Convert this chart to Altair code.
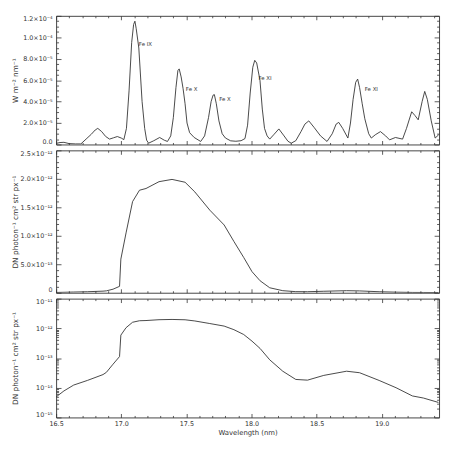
import json
import altair as alt
import pandas as pd

# ---------------- data ----------------
# Panel 1: solar spectrum (W m^-2 nm^-1), values in units of 1e-5
WL1 = [16.50, 16.53, 16.56, 16.60, 16.65, 16.69, 16.73, 16.77, 16.80, 16.82,
       16.85, 16.88, 16.91, 16.94, 16.97, 17.00, 17.02, 17.04, 17.06, 17.08,
       17.095, 17.105, 17.115, 17.135, 17.16, 17.18, 17.195, 17.21, 17.25, 17.295,
       17.33, 17.355, 17.38, 17.40, 17.42, 17.435, 17.445, 17.46, 17.475, 17.49,
       17.505, 17.525, 17.56, 17.61, 17.64, 17.67, 17.69, 17.705, 17.715, 17.73,
       17.75, 17.775, 17.80, 17.84, 17.88, 17.92, 17.95, 17.97, 17.99, 18.01,
       18.025, 18.04, 18.065, 18.083, 18.10, 18.12, 18.14, 18.17, 18.21, 18.25,
       18.28, 18.305, 18.34, 18.38, 18.41, 18.44, 18.48, 18.53, 18.58, 18.62,
       18.65, 18.67, 18.70, 18.74, 18.76, 18.78, 18.80, 18.815, 18.83, 18.85,
       18.87, 18.90, 18.92, 18.95, 18.99, 19.03, 19.06, 19.105, 19.16, 19.19,
       19.23, 19.255, 19.28, 19.31, 19.33, 19.35, 19.38, 19.41, 19.437]
FLUX1_E5 = [0.10, 0.18, 0.20, 0.08, 0.05, 0.05, 0.50, 0.95, 1.35, 1.50,
            1.20, 0.75, 0.50, 0.62, 0.74, 0.60, 0.45, 1.50, 5.00, 9.50,
            11.20, 11.50, 10.80, 9.00, 4.00, 1.50, 0.40, 0.12, 0.35, 0.65,
            0.40, 0.28, 0.80, 2.50, 5.30, 6.90, 7.05, 6.30, 5.20, 3.80,
            2.00, 1.10, 0.65, 0.28, 0.80, 2.50, 4.00, 4.60, 4.65, 3.80,
            2.20, 1.00, 0.60, 0.34, 0.30, 0.35, 0.55, 1.80, 4.80, 7.20,
            7.85, 7.60, 6.00, 3.30, 1.50, 0.80, 0.50, 0.90, 1.45, 0.80,
            0.30, 0.12, 0.35, 1.20, 1.90, 2.20, 1.60, 0.80, 0.28, 1.00,
            1.90, 2.06, 1.50, 0.60, 2.00, 4.20, 5.80, 6.10, 5.30, 3.80,
            2.40, 1.00, 0.60, 0.90, 1.20, 0.80, 0.43, 0.65, 0.50, 1.50,
            3.05, 2.70, 2.30, 4.00, 4.95, 4.20, 2.20, 0.60, 0.90]

# Panels 2 and 3: effective area response, units of 1e-12
WL2 = [16.50, 16.56, 16.635, 16.74, 16.86, 16.886, 16.937, 16.987, 16.997, 17.037,
       17.087, 17.14, 17.19, 17.29, 17.39, 17.49, 17.565, 17.68, 17.79, 17.865,
       17.94, 18.004, 18.066, 18.14, 18.24, 18.34, 18.43, 18.555, 18.73, 18.83,
       18.98, 19.11, 19.235, 19.32, 19.435]
AREA_E12 = [0.0049, 0.0078, 0.0123, 0.0176, 0.0277, 0.033, 0.062, 0.112, 0.59, 1.05,
            1.60, 1.80, 1.83, 1.95, 1.99, 1.94, 1.77, 1.45, 1.19, 0.90,
            0.62, 0.37, 0.21, 0.087, 0.036, 0.019, 0.018, 0.026, 0.036, 0.032,
            0.0176, 0.010, 0.0053, 0.0045, 0.0032]

LINE_LABELS = ["Fe IX", "Fe X", "Fe X", "Fe XI", "Fe XI"]
LINE_LABEL_X = [17.135, 17.496, 17.752, 18.053, 18.87]
LINE_LABEL_Y_E5 = [9.35, 5.2, 4.2, 6.2, 5.15]

X_LABELS = ["16.5", "17.0", "17.5", "18.0", "18.5", "19.0"]
Y1_LABELS = ["0.0", "2.0×10⁻⁵", "4.0×10⁻⁵", "6.0×10⁻⁵", "8.0×10⁻⁵", "1.0×10⁻⁴", "1.2×10⁻⁴"]
Y2_LABELS = ["0", "5.0×10⁻¹³", "1.0×10⁻¹²", "1.5×10⁻¹²", "2.0×10⁻¹²", "2.5×10⁻¹²"]
Y3_LABELS = ["10⁻¹⁵", "10⁻¹⁴", "10⁻¹³", "10⁻¹²", "10⁻¹¹"]

# ---------------- tick positions (exact decimal parsing avoids float drift) ----------------
X_MAJOR = [float(s) for s in X_LABELS]
X_TICKS = [float(f"{165 + i}e-1") for i in range(30)]
Y1_MAJOR = [float(f"{2 * i}e-5") for i in range(len(Y1_LABELS))]
Y1_TICKS = [float(f"{5 * i}e-6") for i in range(25)]
Y2_MAJOR = [float(f"{5 * i}e-13") for i in range(len(Y2_LABELS))]
Y2_TICKS = [float(f"{i}e-13") for i in range(26)]
Y3_MAJOR = [float(f"1e{-15 + i}") for i in range(len(Y3_LABELS))]
Y3_TICKS = [float(f"{k}e{d}") for d in range(-15, -11) for k in range(1, 10)] + [1e-11]

df1 = pd.DataFrame({"wl": WL1, "v": [f * 1e-5 for f in FLUX1_E5]})
df2 = pd.DataFrame({"wl": WL2, "v": [a * 1e-12 for a in AREA_E12]})
dflab = pd.DataFrame({"wl": LINE_LABEL_X, "v": [y * 1e-5 for y in LINE_LABEL_Y_E5],
                      "t": LINE_LABELS})

W = 390
H1, H2, H3 = 131, 145, 121
FONT = "DejaVu Sans"
TXT = "#333333"
LINE = "#333333"

XTEST = "abs(datum.value*2 - round(datum.value*2)) < 0.001"
Y1TEST = "abs(datum.value/2e-5 - round(datum.value/2e-5)) < 0.001"
Y2TEST = "abs(datum.value/5e-13 - round(datum.value/5e-13)) < 0.001"
Y3TEST = "abs(log(datum.value)/LN10 - round(log(datum.value)/LN10)) < 0.001"

xscale = alt.Scale(domain=[16.5, 19.44], nice=False, zero=False)


def arr(labels):
    return json.dumps(labels, ensure_ascii=False)


def tick_axis(orient, offset, values, test, major, minor):
    return alt.Axis(orient=orient, offset=offset, values=values, labels=False,
                    domain=False, grid=False, title=None, tickColor=TXT, tickWidth=0.8,
                    tickSize={"condition": {"test": test, "value": major}, "value": minor})


def panel(df, yscale, yticks, ytest, ymajor, ylabelexpr, ytitle, H, xlabels, extra=None):
    if xlabels:
        xaxis = alt.Axis(orient="bottom", values=X_MAJOR, ticks=False, domain=False, grid=False,
                         labelExpr=f"{arr(X_LABELS)}[round((datum.value-16.5)*2)]",
                         labelFlush=False, labelOverlap=False,
                         labelFont=FONT, labelFontSize=6.5, labelColor=TXT, labelPadding=3,
                         title="Wavelength (nm)", titleFont=FONT, titleFontSize=7,
                         titleFontWeight="normal", titleColor=TXT, titlePadding=2)
    else:
        xaxis = None
    yaxis = alt.Axis(orient="left", values=ymajor, ticks=False, domain=False, grid=False,
                     labelExpr=ylabelexpr, labelFlush=True, labelOverlap=False,
                     labelFont=FONT, labelFontSize=6.5, labelColor=TXT,
                     labelPadding=4, title=ytitle, titleFont=FONT, titleFontSize=7.5,
                     titleFontWeight="normal", titleColor=TXT, titleX=-37, titleY=H / 2)
    base = alt.Chart(df)
    main = base.mark_line(color=LINE, strokeWidth=0.9, clip=True).encode(
        x=alt.X("wl:Q", scale=xscale, axis=xaxis),
        y=alt.Y("v:Q", scale=yscale, axis=yaxis),
    )
    bl = base.mark_line(opacity=0).encode(
        x=alt.X("wl:Q", scale=xscale, axis=tick_axis("top", -H, X_TICKS, XTEST, 4, 2)),
        y=alt.Y("v:Q", scale=yscale, axis=tick_axis("right", -W, yticks, ytest, 5, 2.5)),
    )
    tr = base.mark_line(opacity=0).encode(
        x=alt.X("wl:Q", scale=xscale, axis=tick_axis("bottom", -H, X_TICKS, XTEST, 4, 2)),
        y=alt.Y("v:Q", scale=yscale, axis=tick_axis("left", -W, yticks, ytest, 5, 2.5)),
    )
    layers = [main, bl, tr] + (extra or [])
    return alt.layer(*layers).properties(width=W, height=H)


labels_layer = alt.Chart(dflab).mark_text(align="left", baseline="middle", font=FONT,
                                         fontSize=5.5, color=TXT).encode(
    x=alt.X("wl:Q", scale=xscale, axis=None),
    y=alt.Y("v:Q", axis=None),
    text="t:N",
)

p1 = panel(df1, alt.Scale(domain=[0, 1.2e-4], nice=False, zero=False), Y1_TICKS, Y1TEST, Y1_MAJOR,
           f"{arr(Y1_LABELS)}[round(datum.value/2e-5)]", "W m⁻² nm⁻¹", H1, False,
           extra=[labels_layer])
p2 = panel(df2, alt.Scale(domain=[0, 2.5e-12], nice=False, zero=False), Y2_TICKS, Y2TEST, Y2_MAJOR,
           f"{arr(Y2_LABELS)}[round(datum.value/5e-13)]", "DN photon⁻¹ cm² str px⁻¹", H2, False)
p3 = panel(df2, alt.Scale(type="log", domain=[1e-15, 1e-11], nice=False), Y3_TICKS, Y3TEST, Y3_MAJOR,
           f"{arr(Y3_LABELS)}[round(log(datum.value)/LN10)+15]", "DN photon⁻¹ cm² str px⁻¹", H3, True)

chart = alt.vconcat(p1, p2, p3, spacing=6, bounds="flush").properties(
    padding={"left": 3, "top": 3, "right": 2, "bottom": 0},
    background="white",
).configure_view(stroke="#444444", strokeWidth=1)

chart.save("out.html", embed_options={"renderer": "svg", "actions": False})
